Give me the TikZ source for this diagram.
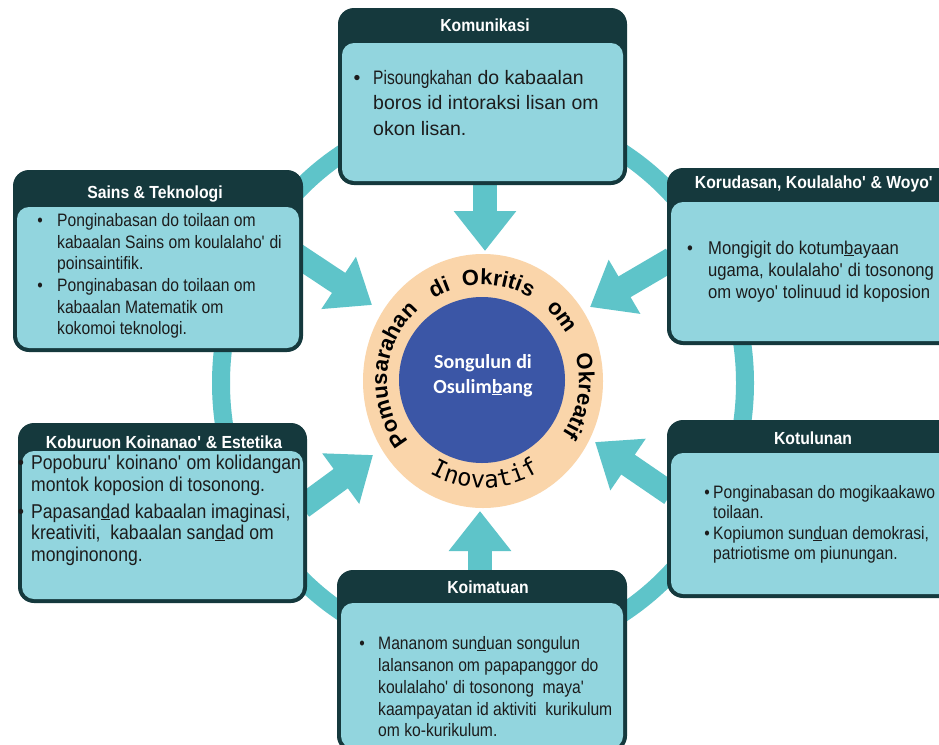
\documentclass[tikz,border=0pt]{standalone}
\usepackage{fontspec}
\setmainfont{Liberation Sans}
\newfontfamily\titlefont[FakeStretch=0.9]{Liberation Sans}
\newfontfamily\narrowfont[FakeStretch=0.87]{Liberation Sans}
\newfontfamily\kobfont[FakeStretch=0.88]{Liberation Sans}
\newfontfamily\komnarrow[FakeStretch=0.8]{Liberation Sans}
\newfontfamily\ctrfont{Carlito}
\newfontfamily\inofont{DejaVu Sans Mono}
\usetikzlibrary{arrows.meta,decorations.text,shapes.geometric}
\definecolor{darkteal}{RGB}{21,57,61}
\definecolor{lightteal}{RGB}{146,213,222}
\definecolor{ringteal}{RGB}{94,196,201}
\definecolor{peach}{RGB}{250,213,170}
\definecolor{coreblue}{RGB}{59,86,166}
\definecolor{bodyink}{RGB}{28,28,28}
\newcommand\ap{\textquotesingle}
\newcommand\ringfmt{\bfseries\fontsize{22}{26}\selectfont}
\newcommand\inofmt{\inofont\fontsize{24}{28}\selectfont}
\begin{document}
\begin{tikzpicture}[x=1pt,y=1pt,
 outerbox/.style={fill=darkteal, rounded corners=16pt, inner sep=0pt, outer sep=0pt, anchor=north west},
 innerbox/.style={fill=lightteal, rounded corners=12pt, inner sep=0pt, outer sep=0pt, anchor=north west},
 titletext/.style={text=white, font=\titlefont\bfseries\fontsize{17.5}{20}\selectfont, anchor=base, inner sep=0pt},
 komtext/.style={text=bodyink, font=\fontsize{19.5}{24}\selectfont, anchor=base west, inner sep=0pt},
 nartext/.style={text=bodyink, font=\narrowfont\fontsize{18}{21}\selectfont, anchor=base west, inner sep=0pt},
 korutext/.style={text=bodyink, font=\titlefont\fontsize{18.5}{22}\selectfont, anchor=base west, inner sep=0pt},
 kobtext/.style={text=bodyink, font=\kobfont\fontsize{20}{22}\selectfont, anchor=base west, inner sep=0pt},
 bigarrow/.style={draw=ringteal, line width=24pt, -{Triangle[width=60pt,length=40pt]}},
 ringword/.style={decorate, decoration={text along path, text align=left, text={|\ringfmt|#1}}},
 ctrtext/.style={text=white, font=\ctrfont\bfseries\fontsize{20}{24}\selectfont, anchor=base, inner sep=0pt}
]
\useasboundingbox (0,0) rectangle (939,-744);
\clip (0,0) rectangle (939,-744);
\fill[white] (0,0) rectangle (939,-744);

% big ring
\draw[ringteal, line width=18pt] (483,-383) ellipse [x radius=262, y radius=272];

% arrows
\coordinate (aTs) at (485,-183); \coordinate (aTt) at (485,-251);
\coordinate (aBs) at (480,-572); \coordinate (aBt) at (480,-511);
\coordinate (aULs) at (295,-254); \coordinate (aULt) at (372,-305);
\coordinate (aURs) at (672,-259); \coordinate (aURt) at (590,-307);
\coordinate (aLLs) at (302,-507); \coordinate (aLLt) at (373,-455);
\coordinate (aLRs) at (671,-494); \coordinate (aLRt) at (595,-442);
\draw[bigarrow] (aTs) -- (aTt);
\draw[bigarrow] (aBs) -- (aBt);
\draw[bigarrow] (aULs) -- (aULt);
\draw[bigarrow] (aURs) -- (aURt);
\draw[bigarrow] (aLLs) -- (aLLt);
\draw[bigarrow] (aLRs) -- (aLRt);

% centre discs
\node[ellipse, fill=peach, minimum width=240pt, minimum height=254pt, inner sep=0pt] (disc) at (483,-381) {};
\node[circle, fill=coreblue, minimum size=166pt, inner sep=0pt] (core) at (482,-380) {};
\node[ctrtext] (c1) at (483,-368) {Songulun di};
\node[ctrtext] (c2) at (483,-393) {Osulim\underline{b}ang};

% ring text
\begin{scope}[shift={(483,-381)}]
\path[ringword={Pomusarahan}] (219:96) arc[start angle=219, end angle=100, radius=96];
\path[ringword={di}] (121:96) arc[start angle=121, end angle=60, radius=96];
\path[ringword={Okritis}] (102:96) arc[start angle=102, end angle=20, radius=96];
\path[ringword={om}] (49:96) arc[start angle=49, end angle=0, radius=96];
\path[ringword={Okreatif}] (16:96) arc[start angle=16, end angle=-70, radius=96];
\path[decorate, decoration={text along path, text align=left, text={|\inofmt|Inovatif}}] (240:107) arc[start angle=240, end angle=320, radius=107];
\end{scope}

% Komunikasi
\node[outerbox, minimum width=289pt, minimum height=177pt] (kom) at (338,-8) {};
\node[innerbox, minimum width=281pt, minimum height=138pt] (kom-in) at (342,-43) {};
\node[titletext] (kom-t) at (485,-31) {Komunikasi};
\node[komtext, anchor=base] (kom-b1) at (357,-84) {\textbullet};
\node[komtext] (kom-1) at (373,-84) {{\komnarrow Pisoungkahan} do kabaalan};
\node[komtext] (kom-2) at (373,-109.5) {boros id intoraksi lisan om};
\node[komtext] (kom-3) at (373,-135) {okon lisan.};

% Sains & Teknologi
\node[outerbox, minimum width=290pt, minimum height=182pt] (sai) at (13,-170) {};
\node[innerbox, minimum width=282pt, minimum height=141pt] (sai-in) at (17,-207) {};
\node[titletext] (sai-t) at (155,-198) {Sains \& Teknologi};
\node[nartext, anchor=base] (sai-b1) at (40,-226) {\textbullet};
\node[nartext] (sai-1) at (57,-226) {Ponginabasan do toilaan om};
\node[nartext] (sai-2) at (57,-248) {kabaalan Sains om koulalaho\ap{} di};
\node[nartext] (sai-3) at (57,-269.5) {poinsaintifik.};
\node[nartext, anchor=base] (sai-b2) at (40,-291) {\textbullet};
\node[nartext] (sai-4) at (57,-291) {Ponginabasan do toilaan om};
\node[nartext] (sai-5) at (57,-313) {kabaalan Matematik om};
\node[nartext] (sai-6) at (57,-334) {kokomoi teknologi.};

% Korudasan
\node[outerbox, minimum width=292pt, minimum height=177pt] (kor) at (667,-168) {};
\node[innerbox, minimum width=284pt, minimum height=139pt] (kor-in) at (671,-202) {};
\node[titletext] (kor-t) at (814,-188) {Korudasan, Koulalaho\ap{} \& Woyo\ap};
\node[korutext, anchor=base] (kor-b1) at (690,-254) {\textbullet};
\node[korutext] (kor-1) at (708,-254) {Mongigit do kotum\underline{b}ayaan};
\node[korutext] (kor-2) at (708,-276) {ugama, koulalaho\ap{} di tosonong};
\node[korutext] (kor-3) at (708,-298) {om woyo\ap{} tolinuud id koposion};

% Koburuon
\node[outerbox, minimum width=289pt, minimum height=180pt] (kob) at (18,-423) {};
\node[innerbox, minimum width=281pt, minimum height=148pt] (kob-in) at (22,-451) {};
\node[titletext] (kob-t) at (164,-448) {Koburuon Koinanao\ap{} \& Estetika};
\node[kobtext, anchor=base] (kob-b1) at (21,-469) {\textbullet};
\node[kobtext] (kob-1) at (31,-469) {Popoburu\ap{} koinano\ap{} om kolidangan};
\node[kobtext] (kob-2) at (31,-491) {montok koposion di tosonong.};
\node[kobtext, anchor=base] (kob-b2) at (21,-518) {\textbullet};
\node[kobtext] (kob-3) at (31,-518) {Papasan\underline{d}ad kabaalan imaginasi,};
\node[kobtext] (kob-4) at (31,-539) {kreativiti,\ \ kabaalan san\underline{d}ad om};
\node[kobtext] (kob-5) at (31,-561) {monginonong.};

% Kotulunan
\node[outerbox, minimum width=292pt, minimum height=178pt] (kot) at (667,-420) {};
\node[innerbox, minimum width=284pt, minimum height=141pt] (kot-in) at (671,-453) {};
\node[titletext] (kot-t) at (813,-444) {Kotulunan};
\node[nartext, anchor=base] (kot-b1) at (707,-498) {\textbullet};
\node[nartext] (kot-1) at (713,-498) {Ponginabasan do mogikaakawo};
\node[nartext] (kot-2) at (713,-518) {toilaan.};
\node[nartext, anchor=base] (kot-b2) at (707,-539) {\textbullet};
\node[nartext] (kot-3) at (713,-539) {Kopiumon sun\underline{d}uan demokrasi,};
\node[nartext] (kot-4) at (713,-559) {patriotisme om piunungan.};

% Koimatuan
\node[outerbox, minimum width=290pt, minimum height=182pt] (koi) at (337,-570) {};
\node[innerbox, minimum width=282pt, minimum height=145pt] (koi-in) at (341,-603) {};
\node[titletext] (koi-t) at (488,-593) {Koimatuan};
\node[nartext, anchor=base] (koi-b1) at (362,-649) {\textbullet};
\node[nartext] (koi-1) at (378,-649) {Mananom sun\underline{d}uan songulun};
\node[nartext] (koi-2) at (378,-671) {lalansanon om papapanggor do};
\node[nartext] (koi-3) at (378,-693) {koulalaho\ap{} di tosonong\ \ maya\ap};
\node[nartext] (koi-4) at (378,-715) {kaampayatan id aktiviti\ \ kurikulum};
\node[nartext] (koi-5) at (378,-736) {om ko-kurikulum.};
\end{tikzpicture}
\end{document}
